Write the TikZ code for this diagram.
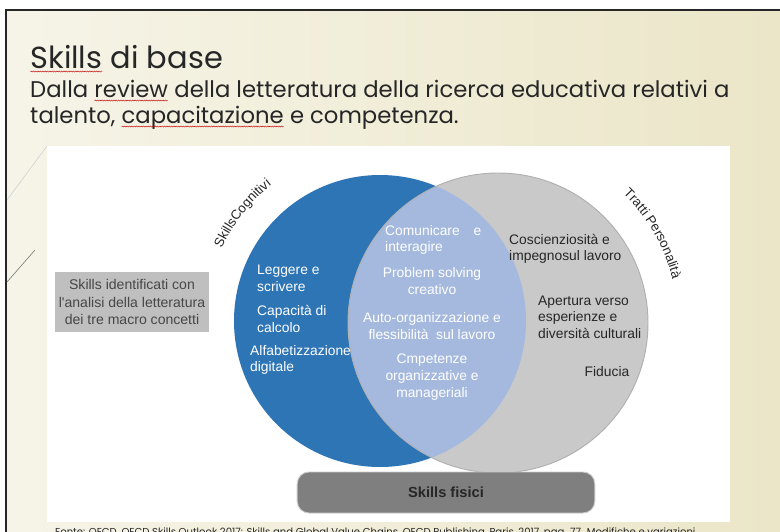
\documentclass[tikz,border=0pt]{standalone}
\usepackage{fontspec}
\setmainfont{Poppins}
\newfontfamily\chartfont{Liberation Sans}
\usetikzlibrary{positioning,decorations.text,decorations.pathmorphing}
\definecolor{slideleft}{HTML}{F6F4E8}
\definecolor{slideright}{HTML}{EBE6C8}
\definecolor{inktitle}{HTML}{262626}
\definecolor{cogblue}{HTML}{2E75B6}
\definecolor{lensblue}{HTML}{A4B9DD}
\definecolor{traitgrey}{HTML}{C9C9C9}
\definecolor{traitedge}{HTML}{B0B0B0}
\definecolor{notegrey}{HTML}{BFBFBF}
\definecolor{physgrey}{HTML}{7F7F7F}
\newcommand\spellwave[1]{\tikz[baseline=(w.base)]{\node[inner sep=0pt,outer sep=0pt,anchor=base] (w) {#1};
  \draw[red!75!black,line width=.35pt,decorate,decoration={snake,amplitude=.45pt,segment length=2pt}]
   ([yshift=-3pt]w.base west) -- ([yshift=-3pt]w.base east);}}

\begin{document}
\begin{tikzpicture}[x=0.03cm,y=0.03cm,
  venn/.style={font=\chartfont\fontsize{11.8}{14.2}\selectfont,inner sep=0pt},
  oncog/.style={venn,text=white,align=left,anchor=west},
  onlens/.style={venn,text=white,align=center},
  ontrait/.style={venn,text=inktitle,align=left,anchor=west},
  headline/.style={anchor=base west,inner sep=0pt,text=inktitle},
  arclabel/.style={decorate,decoration={text along path,text align=center,text color=inktitle}}]
 \useasboundingbox (0,0) rectangle (780,-532);
 \clip (0,0) rectangle (780,-532);
 % slide background
 \fill[white] (0,0) rectangle (780,-532);
 \shade[left color=slideleft,right color=slideright] (6,-10) rectangle (780,-532);
 \draw[line width=1.6pt,black!85] (5,-10) -- (780,-10);
 \draw[line width=1.6pt,black!85] (6,-10) -- (6,-532);
 \draw[black!20,line width=.4pt] (7,-200) -- (47,-146);
 \draw[black!55,line width=.5pt] (7,-282) -- (35,-250);
 % title
 \node[headline,font=\fontsize{26}{31}\selectfont] (title) at (30,-68) {\spellwave{Skills} di base};
 \node[headline,font=\fontsize{19.4}{23}\selectfont] (sub1) at (30,-97) {Dalla \spellwave{review} della letteratura della ricerca educativa relativi a};
 \node[headline,font=\fontsize{19.4}{23}\selectfont] (sub2) at (30,-123) {talento, \spellwave{capacitazione} e competenza.};
 % white panel
 \fill[white] (47,-146) rectangle (730,-522);
 % venn
 \coordinate (cogc) at (380,-321);
 \coordinate (traitc) at (498,-323);
 \fill[cogblue] (cogc) circle[radius=146];
 \fill[traitgrey] (traitc) circle[radius=150];
 \begin{scope}
  \clip (cogc) circle[radius=146];
  \fill[lensblue] (traitc) circle[radius=150];
 \end{scope}
 \draw[traitedge,line width=.8pt] (traitc) circle[radius=150];
 \path[arclabel,decoration={text={|\chartfont\fontsize{11.3}{13}\selectfont|SkillsCognitivi}}]
  ([shift={(168:174)}]cogc) arc[start angle=168,end angle=116,radius=174];
 \path[arclabel,decoration={text={|\chartfont\fontsize{11.3}{13}\selectfont|Tratti Personalità}}]
  ([shift={(60:180)}]traitc) arc[start angle=60,end angle=0,radius=180];
 % cognitive
 \node[oncog] (leggere) at (257,-278) {Leggere e\\scrivere};
 \node[oncog] (calcolo) at (257,-319) {Capacità di\\calcolo};
 \node[oncog] (digitale) at (250,-360) {Alfabetizzazione\\digitale};
 % overlap
 \node[venn,text=white,align=left,anchor=west] (comunicare) at (385,-240) {Comunicare\hspace{1em}e\\interagire};
 \node[onlens] (problem) at (432,-281) {Problem solving\\creativo};
 \node[onlens] (auto) at (432,-326) {Auto-organizzazione e\\flessibilità\ \ sul lavoro};
 \node[onlens] (competenze) at (432,-377) {Cmpetenze\\organizzative e\\manageriali};
 % personality
 \node[ontrait] (coscienza) at (509,-249) {Coscienziosità e\\impegnosul lavoro};
 \node[ontrait] (apertura) at (538,-317) {Apertura verso\\esperienze e\\diversità culturali};
 \node[venn,text=inktitle] (fiducia) at (607,-372) {Fiducia};
 % side note and physical skills
 \node[fill=notegrey,text=inktitle!85,font=\chartfont\fontsize{12}{15}\selectfont,align=center,
  minimum width=131pt,minimum height=51pt,inner sep=0pt] (nota) at (132,-302)
  {Skills identificati con\\l'analisi della letteratura\\dei tre macro concetti};
 \node[rounded corners=10pt,fill=physgrey,draw=black!20,line width=.8pt,minimum width=254pt,minimum height=35pt,
  font=\chartfont\bfseries\fontsize{12.5}{15}\selectfont,text=inktitle] (fisici) at (446,-492.5) {Skills fisici};
 % source
 \node[anchor=north west,inner sep=0pt,font=\fontsize{8.6}{10}\selectfont,text=inktitle] (fonte) at (55,-528)
  {Fonte: OECD, OECD Skills Outlook 2017: Skills and Global Value Chains, OECD Publishing, Paris, 2017, pag. 77. Modifiche e variazioni};
\end{tikzpicture}
\end{document}
